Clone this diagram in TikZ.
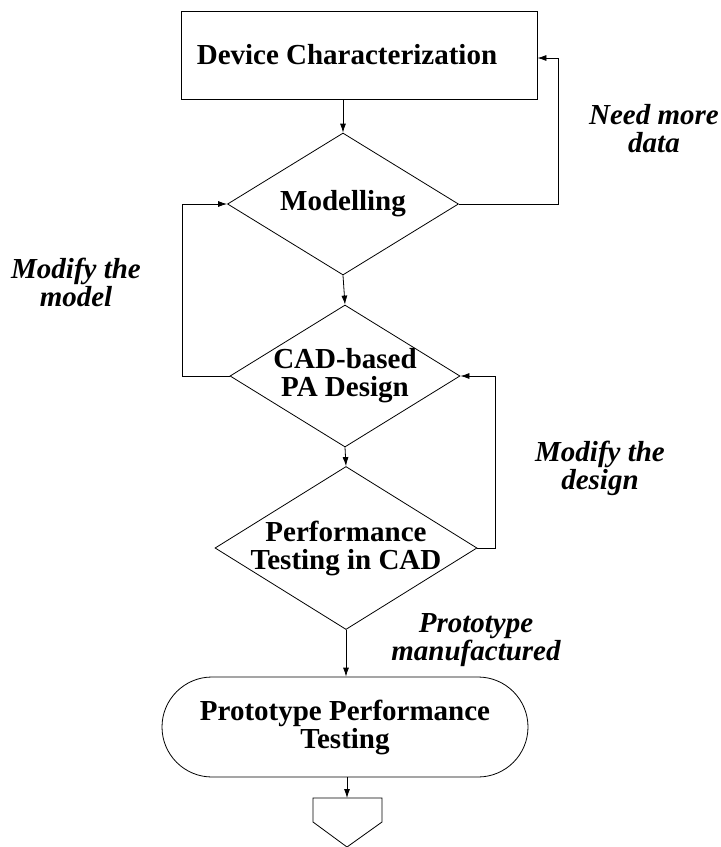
\documentclass[tikz,border=0pt]{standalone}
\usepackage{fontspec}
\setmainfont{Liberation Serif}
\usetikzlibrary{shapes.geometric,arrows.meta}
\begin{document}
\begin{tikzpicture}[x=1pt,y=-1pt,
  line width=0.8pt,
  arr/.style={-{Latex[length=9pt,width=6pt]}},
  maintext/.style={font=\fontsize{29}{28}\selectfont\bfseries, align=center},
  labeltext/.style={font=\fontsize{29}{28}\selectfont\bfseries\itshape, align=center}
]
\useasboundingbox (0,0) rectangle (721,847);
% nodes
\node[draw, minimum width=356pt, minimum height=88pt, inner sep=0pt, maintext] (box) at (359,55) {\hspace*{-24pt}Device Characterization};
\node[diamond, draw, inner sep=0pt, minimum width=231pt, minimum height=142pt,
      label={[maintext]center:Modelling}] (mod) at (343,204) {};
\node[diamond, draw, inner sep=0pt, minimum width=230pt, minimum height=142pt,
      label={[maintext]center:CAD-based\\PA Design}] (cad) at (345,376) {};
\node[diamond, draw, inner sep=0pt, minimum width=262pt, minimum height=163pt,
      label={[maintext]center:Performance\\Testing in CAD}] (perf) at (346,548) {};
\node[draw, rectangle, rounded corners=50pt, minimum width=366pt, minimum height=100pt,
      inner sep=0pt, maintext] (proto) at (345,727) {Prototype Performance\\Testing};
% off-page connector
\coordinate (pt) at (347,798);
\coordinate (ptl) at (313,798);
\coordinate (ptr) at (382,798);
\coordinate (pml) at (313,822);
\coordinate (pmr) at (382,822);
\coordinate (pb) at (347,847);
\draw (ptl) -- (ptr) -- (pmr) -- (pb) -- (pml) -- cycle;
% labels
\node[labeltext] (lneed) at (654,129) {Need more\\data};
\node[labeltext] (lmodel) at (76,282) {Modify the\\model};
\node[labeltext] (ldesign) at (600,468) {Modify the\\design};
\node[labeltext] (lproto) at (476,640) {Prototype\\manufactured};
% connectors
\draw[arr] (box.south -| mod.north) -- (mod.north);
\draw[arr] (mod.south) -- (cad.north);
\draw[arr] (cad.south) -- (perf.north);
\draw[arr] (perf.south) -- (proto.north -| perf.south);
\draw[arr] (proto.south -| pt) -- (pt);
\coordinate (c1) at (558,204);
\draw[arr] (mod.east) -- (c1) |- ([yshift=-3pt]box.east);
\coordinate (c2) at (182,376);
\draw[arr] (cad.west) -- (c2) |- (mod.west);
\coordinate (c3) at (495,548);
\draw[arr] (perf.east) -- (c3) |- (cad.east);
\end{tikzpicture}
\end{document}
